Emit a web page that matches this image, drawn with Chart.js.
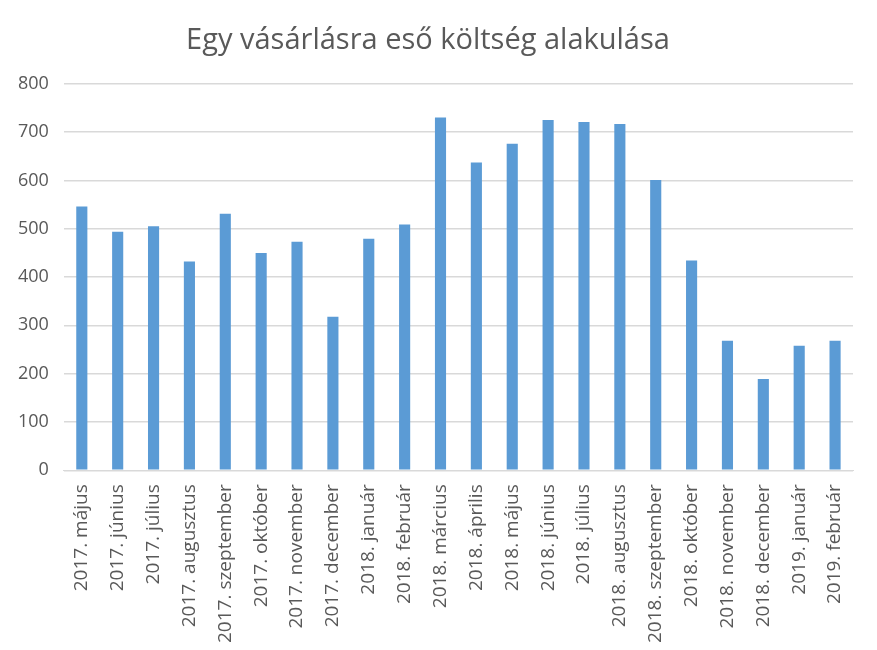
<!DOCTYPE html>
<html>
<head>
<meta charset="utf-8">
<script src="https://cdn.jsdelivr.net/npm/chart.js@4"></script>
<style>
    html, body { margin: 0; padding: 0; background: #ffffff; }
</style>
</head>
<body>
<canvas id="costChart" width="877" height="650"></canvas>
<script>
const chartTitle = "Egy vásárlásra eső költség alakulása";

const months = [
    "2017. május", "2017. június", "2017. július", "2017. augusztus",
    "2017. szeptember", "2017. október", "2017. november", "2017. december",
    "2018. január", "2018. február", "2018. március", "2018. április",
    "2018. május", "2018. június", "2018. július", "2018. augusztus",
    "2018. szeptember", "2018. október", "2018. november", "2018. december",
    "2019. január", "2019. február",
];

const costValues = [
    546, 494, 505, 432, 531, 450, 473, 318,
    479, 509, 730, 637, 676, 725, 721, 717,
    601, 434, 268, 189, 258, 268,
];

const textColor = "#595959";
const gridColor = "#d9d9d9";
const barColor = "#5b9bd5";

const canvas = document.getElementById("costChart");

new Chart(canvas, {
    type: "bar",
    data: {
        labels: months,
        datasets: [
            {
                data: costValues,
                backgroundColor: barColor,
                categoryPercentage: 1,
                barPercentage: 0.31,
            },
        ],
    },
    options: {
        responsive: false,
        animation: false,
        layout: {
            padding: { left: 3, right: 24, top: 0, bottom: 1 },
        },
        plugins: {
            legend: { display: false },
            tooltip: { enabled: false },
            title: {
                display: true,
                text: chartTitle,
                color: textColor,
                font: { family: "Open Sans", size: 29, weight: "normal" },
                padding: { top: 23, bottom: 26 },
            },
        },
        scales: {
            x: {
                grid: { display: false },
                border: { color: gridColor },
                ticks: {
                    color: textColor,
                    font: { family: "Open Sans", size: 19 },
                    maxRotation: 90,
                    minRotation: 90,
                    autoSkip: false,
                    padding: 6,
                },
            },
            y: {
                min: 0,
                max: 800,
                grid: { color: gridColor, lineWidth: 1.5, drawTicks: false },
                border: { display: false },
                ticks: {
                    stepSize: 100,
                    color: textColor,
                    font: { family: "Open Sans", size: 18 },
                    padding: 15,
                },
            },
        },
    },
});
</script>
</body>
</html>
